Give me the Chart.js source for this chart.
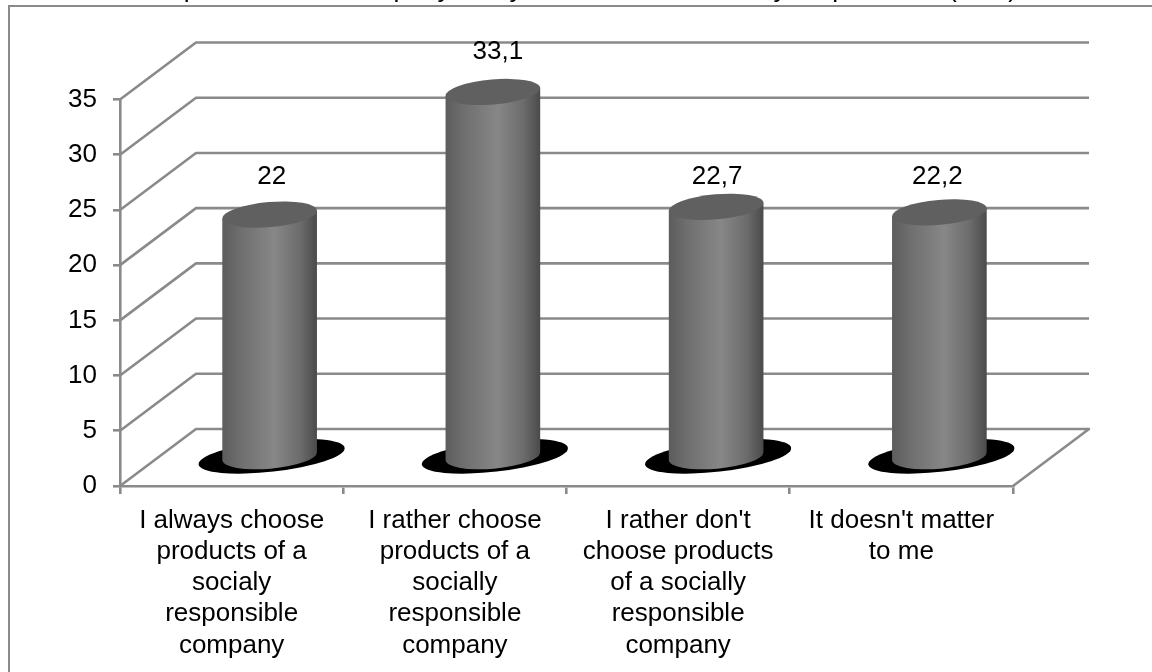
<!DOCTYPE html>
<html>
<head>
<meta charset="utf-8">
<style>
  html, body { margin: 0; padding: 0; background: #fff; overflow: hidden; }
  canvas { display: block; }
</style>
<script src="https://cdn.jsdelivr.net/npm/chart.js@4"></script>
</head>
<body>
<canvas id="preference-chart" width="1152" height="672"></canvas>
<script>
(function () {
  'use strict';

  const categories = [
    ['I always choose', 'products of a', 'socialy', 'responsible', 'company'],
    ['I rather choose', 'products of a', 'socially', 'responsible', 'company'],
    ["I rather don't", 'choose products', 'of a socially', 'responsible', 'company'],
    ["It doesn't matter", 'to me']
  ];
  const shares = [22, 33.1, 22.7, 22.2];
  const yTicks = [0, 5, 10, 15, 20, 25, 30, 35];
  const chartTitle = 'The products of a company that you consider as friendly for purchase (in %)';

  // layout of the fake 3D box
  const FONT = '"Liberation Sans", Arial, sans-serif';
  const LINE = '#8a8a8a';
  const DEPTH_X = 76;
  const DEPTH_Y = 57;
  const RX = 47.5;
  const RY = 12.5;
  const TILT = -5 * Math.PI / 180;
  // hand placed value labels, offset from the top of each cylinder
  const labelOffsets = [[2, 38], [5, 40], [1, 30], [-2, 36]];

  const ctx = document.getElementById('preference-chart');

  const boxPlugin = {
    id: 'box',
    beforeDraw(chart) {
      const c = chart.ctx;
      c.save();
      c.strokeStyle = LINE;
      c.lineWidth = 2;
      c.beginPath();
      c.moveTo(9, 672);
      c.lineTo(9, 6);
      c.lineTo(1152, 6);
      c.stroke();
      // title sits mostly above the top edge of the page
      c.fillStyle = '#000';
      c.font = '26.4px ' + FONT;
      c.textAlign = 'left';
      c.textBaseline = 'alphabetic';
      c.fillText(chartTitle, 131, -3);
      c.restore();
    },
    beforeDatasetsDraw(chart) {
      const c = chart.ctx;
      const { left, right } = chart.chartArea;
      const y = chart.scales.y;
      c.save();
      c.strokeStyle = LINE;
      c.lineWidth = 2.6;
      c.lineJoin = 'round';
      yTicks.forEach(v => {
        const py = y.getPixelForValue(v);
        c.beginPath();
        c.moveTo(left, py);
        c.lineTo(left + DEPTH_X, py - DEPTH_Y);
        c.lineTo(right + DEPTH_X, py - DEPTH_Y);
        if (v === 0) {
          c.lineTo(right, py);
        }
        c.stroke();
      });
      // floor shadows go under the cylinders
      c.fillStyle = '#000';
      chart.getDatasetMeta(0).data.forEach(bar => {
        c.beginPath();
        c.ellipse(bar.x + DEPTH_X / 2 + 2, bar.base - DEPTH_Y / 2, 73.5, 15.5, -6.5 * Math.PI / 180, 0, Math.PI * 2);
        c.fill();
      });
      c.restore();
    },
    afterDatasetsDraw(chart) {
      const c = chart.ctx;
      c.save();
      chart.getDatasetMeta(0).data.forEach((bar, i) => {
        const cx = bar.x + DEPTH_X / 2;
        const top = bar.y - DEPTH_Y / 2;
        const bottom = bar.base - DEPTH_Y / 2;
        const sx = RX * Math.cos(TILT);
        const sy = RX * Math.sin(TILT);

        const grad = c.createLinearGradient(cx - RX, 0, cx + RX, 0);
        grad.addColorStop(0, '#5c5c5c');
        grad.addColorStop(0.2, '#6f6f6f');
        grad.addColorStop(0.55, '#878787');
        grad.addColorStop(0.82, '#6c6c6c');
        grad.addColorStop(1, '#4a4a4a');

        c.fillStyle = grad;
        c.beginPath();
        c.moveTo(cx - sx, top - sy);
        c.lineTo(cx + sx, top + sy);
        c.lineTo(cx + sx, bottom + sy);
        c.ellipse(cx, bottom, RX, RY, TILT, 0, Math.PI);
        c.closePath();
        c.fill();

        c.fillStyle = '#606060';
        c.beginPath();
        c.ellipse(cx, top, RX, RY, TILT, 0, Math.PI * 2);
        c.fill();

        c.fillStyle = '#000';
        c.font = '26px ' + FONT;
        c.textAlign = 'center';
        c.textBaseline = 'middle';
        const label = String(shares[i]).replace('.', ',');
        c.fillText(label, cx + labelOffsets[i][0], top - labelOffsets[i][1]);
      });
      c.restore();
    }
  };

  new Chart(ctx, {
    type: 'bar',
    data: {
      labels: categories,
      datasets: [{
        data: shares,
        backgroundColor: 'rgba(0, 0, 0, 0)',
        borderWidth: 0,
        categoryPercentage: 1,
        barPercentage: 0.42
      }]
    },
    options: {
      responsive: false,
      animation: false,
      layout: {
        padding: { top: 99.5, right: 139, left: 0, bottom: 0 }
      },
      plugins: {
        legend: { display: false },
        tooltip: { enabled: false }
      },
      scales: {
        x: {
          afterFit(scale) { scale.height = 186; },
          grid: { drawOnChartArea: false, color: LINE, lineWidth: 2.6, tickLength: 8 },
          border: { color: LINE, width: 2.6 },
          ticks: {
            autoSkip: false,
            maxRotation: 0,
            color: '#000',
            padding: 11,
            font: { family: FONT, size: 26, lineHeight: 1.2 }
          }
        },
        y: {
          min: 0,
          max: 35,
          afterFit(scale) { scale.width = 120; },
          afterBuildTicks(scale) { scale.ticks = yTicks.map(value => ({ value })); },
          grid: { drawOnChartArea: false, color: LINE, lineWidth: 2.6, tickLength: 7 },
          border: { color: LINE, width: 2.6 },
          ticks: {
            color: '#000',
            padding: 16,
            font: { family: FONT, size: 26 }
          }
        }
      }
    },
    plugins: [boxPlugin]
  });
})();
</script>
</body>
</html>
